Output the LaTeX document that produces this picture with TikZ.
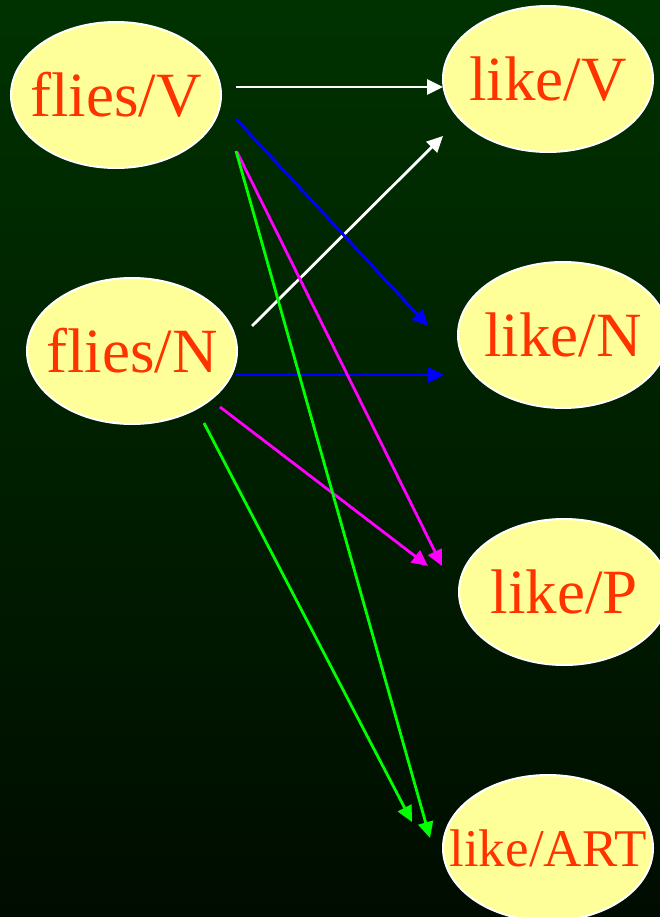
\documentclass[tikz,border=0pt]{standalone}
\usepackage{fontspec}
\setmainfont{Liberation Serif}
\usetikzlibrary{shapes.geometric,arrows.meta}
\definecolor{bgtop}{RGB}{0,50,0}
\definecolor{bgbot}{RGB}{0,12,0}
\definecolor{nodefill}{RGB}{255,255,153}
\definecolor{labelred}{RGB}{255,51,0}
\definecolor{edgeblue}{RGB}{0,0,255}
\definecolor{edgemag}{RGB}{255,0,255}
\definecolor{edgegreen}{RGB}{0,255,0}
\newcommand{\tagtext}[1]{\makebox[0pt]{#1}}
\tikzset{
  tag/.style={ellipse, draw=white, line width=2pt, fill=nodefill,
    minimum width=210pt, minimum height=146pt, inner sep=0pt,
    text=labelred, font=\fontsize{63}{70}\selectfont},
  edge/.style={line width=2.8pt, -{Triangle[length=16pt,width=15pt]}},
}
\begin{document}
\begin{tikzpicture}[x=1pt,y=-1pt]
\useasboundingbox (0,0) rectangle (660,917);
\clip (0,0) rectangle (660,917);
\shade[top color=bgtop, bottom color=bgbot] (0,0) rectangle (660,917);

\node[tag] (fV) at (116,95) {\tagtext{flies/V}};
\node[tag] (fN) at (132,351) {\tagtext{flies/N}};
\node[tag] (lV) at (548,79) {\tagtext{like/V}};
\node[tag] (lN) at (563,335) {\tagtext{like/N}};
\node[tag] (lP) at (564,592) {\tagtext{like/P}};
\node[tag, font=\fontsize{53}{60}\selectfont] (lA) at (548,848) {\tagtext{like/ART}};

% start and end points of the connectors
\coordinate (fVa) at (236,87);   \coordinate (lVa) at (443,87);
\coordinate (fNa) at (252,326);  \coordinate (lVb) at (443,136);
\coordinate (fVb) at (236,119);  \coordinate (lNa) at (428,326);
\coordinate (fNb) at (236,375);  \coordinate (lNb) at (444,375);
\coordinate (fVc) at (237,152);  \coordinate (lPa) at (442,566);
\coordinate (fNc) at (220,407);  \coordinate (lPb) at (428,566);
\coordinate (fVd) at (236,151);  \coordinate (lAa) at (430,838);
\coordinate (fNd) at (204,423);  \coordinate (lAb) at (412,822);

\draw[edge, white] (fVa) -- (lVa);
\draw[edge, white] (fNa) -- (lVb);
\draw[edge, edgeblue] (fVb) -- (lNa);
\draw[edge, edgeblue] (fNb) -- (lNb);
\draw[edge, edgemag] (fVc) -- (lPa);
\draw[edge, edgemag] (fNc) -- (lPb);
\draw[edge, edgegreen] (fVd) -- (lAa);
\draw[edge, edgegreen] (fNd) -- (lAb);
\end{tikzpicture}
\end{document}
